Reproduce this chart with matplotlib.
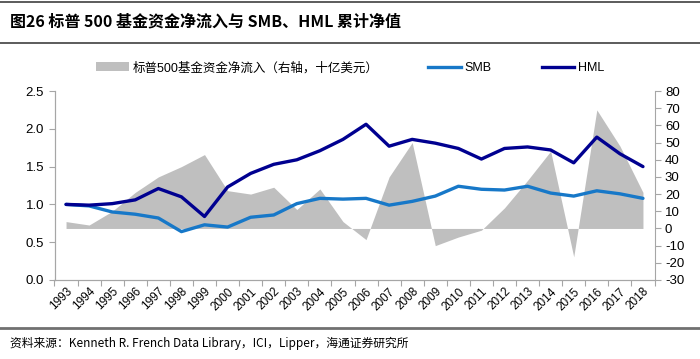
import matplotlib
matplotlib.use("Agg")
import matplotlib.pyplot as plt
from matplotlib.lines import Line2D
from matplotlib.patches import Patch

plt.rcParams['font.family'] = ['Liberation Sans', 'Noto Sans CJK SC', 'DejaVu Sans']

years = [str(y) for y in range(1993, 2019)]
flows = [4, 2, 10, 21, 30, 36, 43, 22, 20, 24, 11, 23, 4, -6.5, 30, 50,
         -10, -5, -1, 12, 28, 45, -16.5, 69, 48, 21]
smb = [1.00, 0.98, 0.90, 0.87, 0.82, 0.64, 0.73, 0.70, 0.83, 0.86, 1.01, 1.08, 1.07,
       1.08, 0.99, 1.04, 1.11, 1.24, 1.20, 1.19, 1.24, 1.15, 1.11, 1.18, 1.14, 1.08]
hml = [1.00, 0.99, 1.01, 1.06, 1.21, 1.10, 0.84, 1.23, 1.41, 1.53, 1.59, 1.71, 1.86,
       2.06, 1.77, 1.86, 1.81, 1.74, 1.60, 1.74, 1.76, 1.72, 1.55, 1.89, 1.67, 1.50]

gray = '#BFBFBF'
c_smb = '#1778C8'
c_hml = '#000090'
axis_gray = '#A6A6A6'

fig = plt.figure(figsize=(7, 3.59), dpi=100)

# header / footer rules
fig.add_artist(Line2D([0, 1], [1 - 2 / 359, 1 - 2 / 359], color='#404040', lw=1.2))
fig.add_artist(Line2D([0, 1], [1 - 43 / 359, 1 - 43 / 359], color='#404040', lw=1.2))
fig.add_artist(Line2D([0, 1], [1 - 328 / 359, 1 - 328 / 359], color='#707070', lw=2))
fig.text(10 / 700, 1 - 21 / 359, '图26 标普 500 基金资金净流入与 SMB、HML 累计净值',
         fontsize=11.5, fontweight='bold', va='center', ha='left',
         family=['Noto Sans CJK SC', 'DejaVu Sans'])
fig.text(10 / 700, 1 - 343 / 359,
         '资料来源：Kenneth R. French Data Library，ICI，Lipper，海通证券研究所',
         fontsize=8.5, va='center', ha='left', family=['Noto Sans CJK SC', 'DejaVu Sans'])

ax = fig.add_axes([54.5 / 700, 79 / 359, 600 / 700, 189 / 359])
ax2 = ax.twinx()
x = range(len(years))

ax2.fill_between(x, 0, flows, color=gray, lw=0)
ax.plot(x, smb, color=c_smb, lw=2.4, solid_joinstyle='round', solid_capstyle='round')
ax.plot(x, hml, color=c_hml, lw=2.4, solid_joinstyle='round', solid_capstyle='round')

ax.set_zorder(2)
ax.patch.set_visible(False)

ax.set_xlim(-0.5, len(years) - 0.5)
ax.set_ylim(0, 2.5)
ax.set_yticks([0, 0.5, 1.0, 1.5, 2.0, 2.5])
ax.set_yticklabels(['%.1f' % v for v in [0, 0.5, 1.0, 1.5, 2.0, 2.5]], fontsize=9.5)
ax2.set_ylim(-30, 80)
ax2.set_yticks(range(-30, 81, 10))
ax2.set_yticklabels([str(v) for v in range(-30, 81, 10)], fontsize=9.5)

ax.set_xticks([i + 0.5 for i in range(-1, len(years))], minor=False)
ax.set_xticklabels([])
ax.set_xticks(list(x), minor=True)
ax.set_xticklabels(years, minor=True, rotation=45, ha='right', va='top',
                   rotation_mode='anchor', fontsize=8.5)
ax.tick_params(axis='x', which='minor', length=0, pad=4)
ax.tick_params(axis='x', which='major', length=4, color=axis_gray)
ax.tick_params(axis='y', length=4, color=axis_gray)
ax2.tick_params(axis='y', length=4, color=axis_gray)

for a in (ax, ax2):
    a.spines['top'].set_visible(False)
    for s in ('left', 'right', 'bottom'):
        a.spines[s].set_color(axis_gray)
ax.spines['right'].set_visible(False)

handles = [Patch(facecolor=gray, edgecolor='none'),
           Line2D([], [], color=c_smb, lw=2.4),
           Line2D([], [], color=c_hml, lw=2.4)]
labels = ['标普500基金资金净流入（右轴，十亿美元）', 'SMB', 'HML']
fig.legend(handles, labels, loc='center', bbox_to_anchor=(0.5, 1 - 68 / 359), ncol=3,
           frameon=False, handlelength=2.6, handletextpad=0.3, columnspacing=4,
           prop={'family': ['Liberation Sans', 'Noto Sans CJK SC'], 'size': 9})

fig.savefig('out.png', dpi=100)
